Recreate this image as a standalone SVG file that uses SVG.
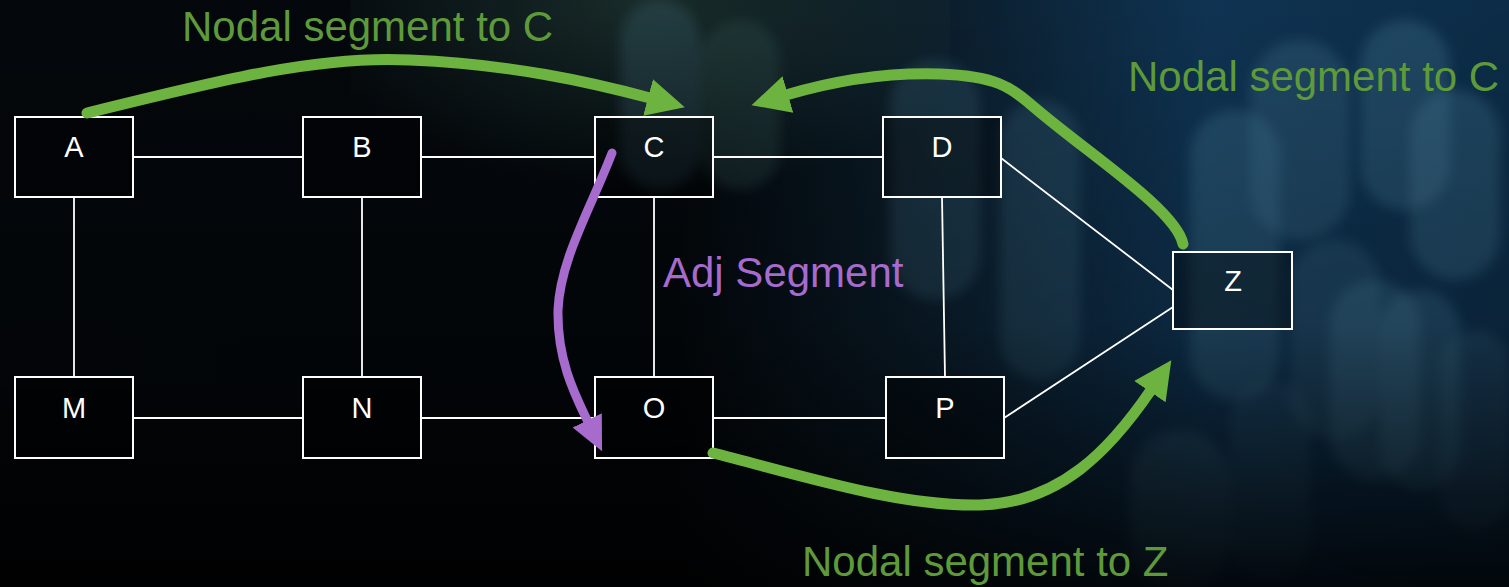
<svg xmlns="http://www.w3.org/2000/svg" width="1509" height="587" viewBox="0 0 1509 587">
<defs>
<linearGradient id="bgH" x1="0" y1="0" x2="1" y2="0">
<stop offset="0" stop-color="#04070b"/>
<stop offset="0.45" stop-color="#03070b"/>
<stop offset="0.6" stop-color="#0a1a26"/>
<stop offset="0.8" stop-color="#0f3352"/>
<stop offset="1" stop-color="#0c2c47"/>
</linearGradient>
<linearGradient id="bgV" x1="0" y1="0" x2="0" y2="1">
<stop offset="0" stop-color="#000" stop-opacity="0"/>
<stop offset="0.55" stop-color="#000" stop-opacity="0.2"/>
<stop offset="1" stop-color="#000" stop-opacity="0.85"/>
</linearGradient>
<radialGradient id="glowTop" cx="0.5" cy="0" r="0.6">
<stop offset="0" stop-color="#2a4a44" stop-opacity="0.55"/>
<stop offset="1" stop-color="#2a4a44" stop-opacity="0"/>
</radialGradient>
<filter id="blur" x="-50%" y="-50%" width="200%" height="200%"><feGaussianBlur stdDeviation="6"/></filter>
<marker id="hg" viewBox="0 0 40 40" refX="2" refY="20" markerWidth="40" markerHeight="40" markerUnits="userSpaceOnUse" orient="auto">
<path d="M0,1 L38,20 L0,39 Z" fill="#6db33f"/>
</marker>
<marker id="hp" viewBox="0 0 40 40" refX="2" refY="20" markerWidth="36" markerHeight="36" markerUnits="userSpaceOnUse" orient="auto">
<path d="M0,2 L38,20 L0,38 Z" fill="#a66bcc"/>
</marker>
<style>
.box{fill:#000;fill-opacity:0.35;stroke:#fff;stroke-width:2}
.lbl{font-family:"Liberation Sans",Arial,sans-serif;font-size:29px;fill:#fff;text-anchor:middle}
.edge{stroke:#fff;stroke-width:1.8;fill:none}
.ga{stroke:#6db33f;stroke-width:11;fill:none;stroke-linecap:round}
.pa{stroke:#a66bcc;stroke-width:9;fill:none;stroke-linecap:round}
.gt{font-family:"Liberation Sans",Arial,sans-serif;font-size:42px;fill:#5e9a3a}
.pt{font-family:"Liberation Sans",Arial,sans-serif;font-size:42px;fill:#a66bcc}
</style>
</defs>
<g id="background">
<rect width="1509" height="587" fill="url(#bgH)"/>
<rect x="350" y="0" width="600" height="320" fill="url(#glowTop)"/>
<g filter="url(#blur)" fill="#4a7f98" fill-opacity="0.22">
<rect x="620" y="0" width="80" height="190" rx="40"/>
<rect x="700" y="20" width="80" height="170" rx="40" fill="#3f6a66"/>
<rect x="890" y="60" width="90" height="240" rx="45"/>
<rect x="1000" y="100" width="80" height="280" rx="40"/>
<rect x="1190" y="110" width="90" height="290" rx="45" fill-opacity="0.3"/>
<rect x="1290" y="240" width="90" height="200" rx="45"/>
<rect x="1360" y="20" width="90" height="190" rx="45" fill-opacity="0.3"/>
<rect x="1410" y="90" width="90" height="190" rx="45" fill-opacity="0.3"/>
<rect x="1250" y="40" width="100" height="200" rx="50" fill-opacity="0.25"/>
<rect x="1330" y="280" width="90" height="200" rx="45" fill-opacity="0.3"/>
<rect x="1380" y="290" width="80" height="200" rx="40" fill-opacity="0.3"/>
<rect x="1130" y="430" width="100" height="160" rx="50" fill-opacity="0.25"/>
<rect x="1230" y="380" width="80" height="200" rx="40" fill-opacity="0.18"/>
<rect x="1440" y="330" width="70" height="200" rx="35" fill-opacity="0.2"/>
</g>
<rect width="1509" height="587" fill="url(#bgV)"/>
</g>
<g id="connectors">
<line class="edge" x1="133" y1="157" x2="303" y2="157"/>
<line class="edge" x1="421" y1="157" x2="595" y2="157"/>
<line class="edge" x1="713" y1="157" x2="883" y2="157"/>
<line class="edge" x1="74" y1="197" x2="74" y2="377"/>
<line class="edge" x1="362" y1="197" x2="362" y2="377"/>
<line class="edge" x1="654" y1="197" x2="654" y2="377"/>
<line class="edge" x1="942" y1="197" x2="945" y2="377"/>
<line class="edge" x1="133" y1="418" x2="303" y2="418"/>
<line class="edge" x1="421" y1="418" x2="595" y2="418"/>
<line class="edge" x1="713" y1="418" x2="886" y2="418"/>
<line class="edge" x1="1001" y1="158" x2="1173" y2="290"/>
<line class="edge" x1="1004" y1="418" x2="1173" y2="307"/>
</g>
<g id="node-A"><rect class="box" x="15" y="117" width="118" height="80"/><text class="lbl" x="74" y="157">A</text></g>
<g id="node-B"><rect class="box" x="303" y="117" width="118" height="80"/><text class="lbl" x="362" y="157">B</text></g>
<g id="node-C"><rect class="box" x="595" y="117" width="118" height="80"/><text class="lbl" x="654" y="157">C</text></g>
<g id="node-D"><rect class="box" x="883" y="117" width="118" height="80"/><text class="lbl" x="942" y="157">D</text></g>
<g id="node-Z"><rect class="box" x="1173" y="252" width="119" height="77"/><text class="lbl" x="1233" y="291">Z</text></g>
<g id="node-M"><rect class="box" x="15" y="377" width="118" height="81"/><text class="lbl" x="74" y="418">M</text></g>
<g id="node-N"><rect class="box" x="303" y="377" width="118" height="81"/><text class="lbl" x="362" y="418">N</text></g>
<g id="node-O"><rect class="box" x="595" y="377" width="118" height="81"/><text class="lbl" x="654" y="418">O</text></g>
<g id="node-P"><rect class="box" x="886" y="377" width="118" height="81"/><text class="lbl" x="945" y="418">P</text></g>
<g id="segments">
<path class="ga" marker-end="url(#hg)" d="M 87 113 C 220 80, 320 55, 410 60 C 510 64, 590 82, 650 98"/>
<path class="ga" marker-end="url(#hg)" d="M 1183 244 C 1176 210, 1090 155, 1035 108 C 1010 86, 995 76, 940 74 C 880 72, 830 82, 786 95"/>
<path class="ga" marker-end="url(#hg)" d="M 713 453 C 800 475, 900 507, 980 505 C 1060 503, 1110 450, 1151 390"/>
<path class="pa" marker-end="url(#hp)" d="M 612 153 C 590 210, 560 260, 558 310 C 557 360, 575 395, 588 422"/>
<text class="gt" x="182" y="41">Nodal segment to C</text>
<text class="gt" x="1128" y="91">Nodal segment to C</text>
<text class="gt" x="802" y="576">Nodal segment to Z</text>
<text class="pt" x="663" y="287">Adj Segment</text>
</g>
</svg>
